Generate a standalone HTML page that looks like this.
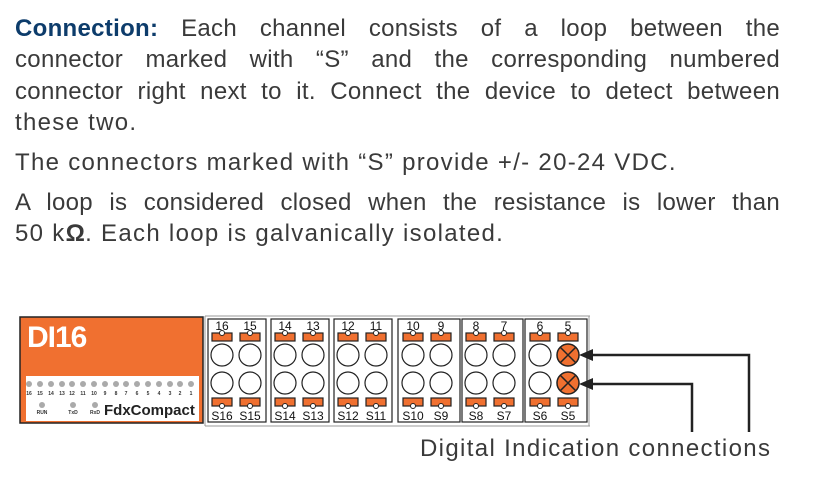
<!DOCTYPE html>
<html><head><meta charset="utf-8"><style>
body{margin:0;width:820px;height:478px;background:#fff;position:relative;overflow:hidden;font-family:"Liberation Sans",sans-serif;color:#3a3a3a}
.l{position:absolute;left:15px;width:765px;font-size:24px;line-height:30px;white-space:nowrap;letter-spacing:1.3px}
.j{text-align:justify;text-align-last:justify;white-space:normal;letter-spacing:0.3px}
b{color:#0d3c6b;font-weight:bold;letter-spacing:0.3px}
</style></head><body>
<div class="l j" style="top:14px"><b>Connection:</b> Each channel consists of a loop between the</div>
<div class="l j" style="top:45px">connector marked with “S” and the corresponding numbered</div>
<div class="l j" style="top:77px">connector right next to it. Connect the device to detect between</div>
<div class="l" style="top:108px">these two.</div>
<div class="l" style="top:148px">The connectors marked with “S” provide +/- 20-24 VDC.</div>
<div class="l j" style="top:188px">A loop is considered closed when the resistance is lower than</div>
<div class="l" style="top:219px">50 k<b style="color:#3a3a3a">Ω</b>. Each loop is galvanically isolated.</div>
<div class="l" style="top:434px;left:420px;width:auto;letter-spacing:1.35px">Digital Indication connections</div>
<svg width="820" height="478" style="position:absolute;left:0;top:0" font-family="Liberation Sans,sans-serif">
<rect x="20" y="317" width="183" height="106" fill="#f07030" stroke="#222" stroke-width="1.5"/>
<text x="27" y="347" font-size="30" font-weight="bold" fill="#fff" letter-spacing="-1">DI16</text>
<rect x="26" y="376" width="173" height="45" fill="#fff"/>
<g fill="#aaa">
<circle cx="29" cy="384" r="3"/><circle cx="40" cy="384" r="3"/><circle cx="51" cy="384" r="3"/><circle cx="62" cy="384" r="3"/><circle cx="72" cy="384" r="3"/><circle cx="83" cy="384" r="3"/><circle cx="94" cy="384" r="3"/><circle cx="105" cy="384" r="3"/><circle cx="116" cy="384" r="3"/><circle cx="126" cy="384" r="3"/><circle cx="137" cy="384" r="3"/><circle cx="148" cy="384" r="3"/><circle cx="159" cy="384" r="3"/><circle cx="170" cy="384" r="3"/><circle cx="180" cy="384" r="3"/><circle cx="191" cy="384" r="3"/>
<circle cx="42" cy="405" r="3"/><circle cx="73" cy="405" r="3"/><circle cx="95" cy="405" r="3"/>
</g>
<g font-size="5" fill="#333" text-anchor="middle" font-weight="bold">
<text x="29" y="395">16</text><text x="40" y="395">15</text><text x="51" y="395">14</text><text x="62" y="395">13</text><text x="72" y="395">12</text><text x="83" y="395">11</text><text x="94" y="395">10</text><text x="105" y="395">9</text><text x="116" y="395">8</text><text x="126" y="395">7</text><text x="137" y="395">6</text><text x="148" y="395">5</text><text x="159" y="395">4</text><text x="170" y="395">3</text><text x="180" y="395">2</text><text x="191" y="395">1</text>
<text x="42" y="414">RUN</text><text x="73" y="414">TxD</text><text x="95" y="414">RxD</text>
</g>
<text x="104" y="415" font-size="15" font-weight="bold" fill="#222">FdxCompact</text>
<path d="M205 316 H590 M205 426 H590 M205 316 V426 M589 316 V426" stroke="#999" stroke-width="1" fill="none"/>
<g stroke="#222" stroke-width="1.2">
<rect x="208" y="319" width="58" height="103" fill="#fff"/>
<rect x="271" y="319" width="58" height="103" fill="#fff"/>
<rect x="334" y="319" width="58" height="103" fill="#fff"/>
<rect x="398" y="319" width="62" height="103" fill="#fff"/>
<rect x="462" y="319" width="61" height="103" fill="#fff"/>
<rect x="525" y="319" width="62" height="103" fill="#fff"/>
</g>
<g stroke="#222" stroke-width="1.2">
<g fill="#f07030"><rect x="212" y="333" width="20" height="8"/><rect x="240" y="333" width="20" height="8"/><rect x="275" y="333" width="20" height="8"/><rect x="303" y="333" width="20" height="8"/><rect x="338" y="333" width="20" height="8"/><rect x="366" y="333" width="20" height="8"/><rect x="403" y="333" width="20" height="8"/><rect x="431" y="333" width="20" height="8"/><rect x="466" y="333" width="20" height="8"/><rect x="494" y="333" width="20" height="8"/><rect x="530" y="333" width="20" height="8"/><rect x="558" y="333" width="20" height="8"/>
<rect x="212" y="398" width="20" height="8"/><rect x="240" y="398" width="20" height="8"/><rect x="275" y="398" width="20" height="8"/><rect x="303" y="398" width="20" height="8"/><rect x="338" y="398" width="20" height="8"/><rect x="366" y="398" width="20" height="8"/><rect x="403" y="398" width="20" height="8"/><rect x="431" y="398" width="20" height="8"/><rect x="466" y="398" width="20" height="8"/><rect x="494" y="398" width="20" height="8"/><rect x="530" y="398" width="20" height="8"/><rect x="558" y="398" width="20" height="8"/></g>
<g fill="#fff" stroke-width="1">
<circle cx="222" cy="333" r="2.5"/><circle cx="250" cy="333" r="2.5"/><circle cx="285" cy="333" r="2.5"/><circle cx="313" cy="333" r="2.5"/><circle cx="348" cy="333" r="2.5"/><circle cx="376" cy="333" r="2.5"/><circle cx="413" cy="333" r="2.5"/><circle cx="441" cy="333" r="2.5"/><circle cx="476" cy="333" r="2.5"/><circle cx="504" cy="333" r="2.5"/><circle cx="540" cy="333" r="2.5"/><circle cx="568" cy="333" r="2.5"/>
<circle cx="222" cy="406" r="2.5"/><circle cx="250" cy="406" r="2.5"/><circle cx="285" cy="406" r="2.5"/><circle cx="313" cy="406" r="2.5"/><circle cx="348" cy="406" r="2.5"/><circle cx="376" cy="406" r="2.5"/><circle cx="413" cy="406" r="2.5"/><circle cx="441" cy="406" r="2.5"/><circle cx="476" cy="406" r="2.5"/><circle cx="504" cy="406" r="2.5"/><circle cx="540" cy="406" r="2.5"/><circle cx="568" cy="406" r="2.5"/>
</g>
<g fill="#fff">
<circle cx="222" cy="355" r="11"/><circle cx="250" cy="355" r="11"/><circle cx="285" cy="355" r="11"/><circle cx="313" cy="355" r="11"/><circle cx="348" cy="355" r="11"/><circle cx="376" cy="355" r="11"/><circle cx="413" cy="355" r="11"/><circle cx="441" cy="355" r="11"/><circle cx="476" cy="355" r="11"/><circle cx="504" cy="355" r="11"/><circle cx="540" cy="355" r="11"/>
<circle cx="222" cy="383" r="11"/><circle cx="250" cy="383" r="11"/><circle cx="285" cy="383" r="11"/><circle cx="313" cy="383" r="11"/><circle cx="348" cy="383" r="11"/><circle cx="376" cy="383" r="11"/><circle cx="413" cy="383" r="11"/><circle cx="441" cy="383" r="11"/><circle cx="476" cy="383" r="11"/><circle cx="504" cy="383" r="11"/><circle cx="540" cy="383" r="11"/>
</g>
<g fill="#f07030" stroke-width="1.5">
<circle cx="568" cy="355" r="11"/><circle cx="568" cy="383" r="11"/>
<path d="M560 347 L576 363 M576 347 L560 363 M560 375 L576 391 M576 375 L560 391" fill="none"/>
</g>
</g>
<g font-size="12" fill="#111" text-anchor="middle">
<text x="222" y="330">16</text><text x="250" y="330">15</text><text x="285" y="330">14</text><text x="313" y="330">13</text><text x="348" y="330">12</text><text x="376" y="330">11</text><text x="413" y="330">10</text><text x="441" y="330">9</text><text x="476" y="330">8</text><text x="504" y="330">7</text><text x="540" y="330">6</text><text x="568" y="330">5</text>
<text x="222" y="420">S16</text><text x="250" y="420">S15</text><text x="285" y="420">S14</text><text x="313" y="420">S13</text><text x="348" y="420">S12</text><text x="376" y="420">S11</text><text x="413" y="420">S10</text><text x="441" y="420">S9</text><text x="476" y="420">S8</text><text x="504" y="420">S7</text><text x="540" y="420">S6</text><text x="568" y="420">S5</text>
</g>
<g stroke="#222" stroke-width="2.5" fill="none">
<path d="M590 355 H749 V432"/><path d="M590 384 H692 V432"/>
</g>
<g fill="#222">
<path d="M579 355 L593 349 L593 361 Z"/><path d="M579 384 L593 378 L593 390 Z"/>
</g>
</svg>
</body></html>
